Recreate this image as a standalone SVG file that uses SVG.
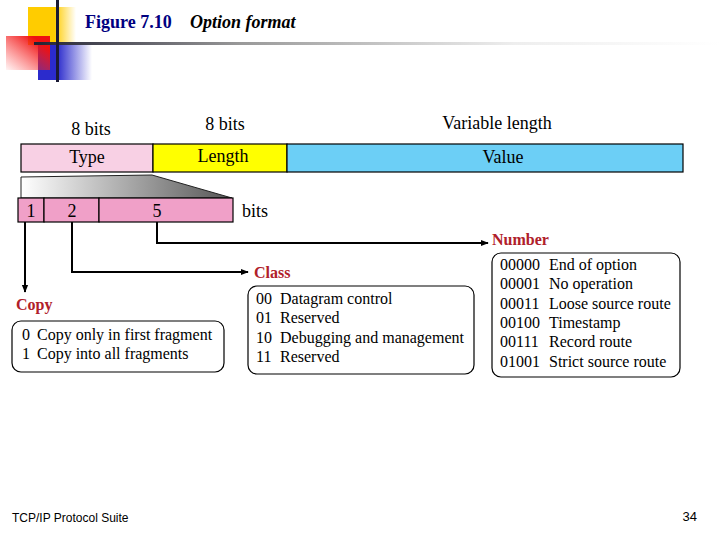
<svg xmlns="http://www.w3.org/2000/svg" width="720" height="540" viewBox="0 0 720 540">
<defs>
<linearGradient id="gY" x1="0" y1="0" x2="1" y2="0"><stop offset="0" stop-color="#ffcc00"/><stop offset="0.55" stop-color="#ffcc00"/><stop offset="1" stop-color="#ffcc00" stop-opacity="0"/></linearGradient>
<linearGradient id="gR" x1="0" y1="1" x2="1" y2="0"><stop offset="0" stop-color="#ff3333" stop-opacity="0.05"/><stop offset="0.8" stop-color="#ee1111"/><stop offset="1" stop-color="#ee1111"/></linearGradient>
<linearGradient id="gB" x1="0" y1="0" x2="1" y2="0"><stop offset="0" stop-color="#2b2bcc"/><stop offset="0.35" stop-color="#2b2bcc"/><stop offset="1" stop-color="#2b2bcc" stop-opacity="0"/></linearGradient>
<linearGradient id="gL" x1="0" y1="0" x2="1" y2="0"><stop offset="0" stop-color="#222233"/><stop offset="0.3" stop-color="#999999"/><stop offset="0.7" stop-color="#eeeeee"/><stop offset="1" stop-color="#ffffff"/></linearGradient>
<linearGradient id="gT" x1="0" y1="0" x2="1" y2="0"><stop offset="0" stop-color="#ffffff"/><stop offset="1" stop-color="#555555"/></linearGradient>
<marker id="ah" viewBox="0 0 10 10" refX="9" refY="5" markerWidth="8" markerHeight="8" markerUnits="userSpaceOnUse" orient="auto"><path d="M0,1 L10,5 L0,9 z" fill="#000"/></marker>
<style>
.t{font-family:"Liberation Serif","Times New Roman",serif;font-size:18px;fill:#000}
.lb{font-family:"Liberation Serif","Times New Roman",serif;font-size:16px;fill:#000}
.h{font-family:"Liberation Serif","Times New Roman",serif;font-size:16px;font-weight:bold;fill:#b0202a}
.box{stroke:#000;stroke-width:1.2}
.rb{fill:#fff;stroke:#000;stroke-width:1.2}
.ln{fill:none;stroke:#000;stroke-width:2}
</style>
</defs>
<g id="logo">
<rect x="28" y="7" width="48" height="38" fill="url(#gY)"/>
<rect x="38" y="45" width="54" height="35" fill="url(#gB)"/>
<rect x="6" y="36" width="44" height="34" fill="url(#gR)"/>
<rect x="34" y="42" width="686" height="3" fill="url(#gL)"/>
<rect x="56" y="0" width="3" height="82" fill="#1a1a33"/>
</g>
<g id="title">
<text x="85" y="28" font-family="Liberation Serif, serif" font-size="18" font-weight="bold" fill="#000080">Figure 7.10</text>
<text x="190" y="28" font-family="Liberation Serif, serif" font-size="18" font-weight="bold" font-style="italic" fill="#000">Option format</text>
</g>
<g id="header">
<text class="t" x="91" y="135" text-anchor="middle">8 bits</text>
<text class="t" x="225" y="130" text-anchor="middle">8 bits</text>
<text class="t" x="497" y="129" text-anchor="middle">Variable length</text>
</g>
<g id="type"><rect class="box" x="21" y="144" width="132" height="28" fill="#f8d0e4"/><text class="t" x="87" y="163" text-anchor="middle">Type</text></g>
<g id="length"><rect class="box" x="153" y="144" width="134" height="28" fill="#ffff00"/><text class="t" x="223" y="162" text-anchor="middle">Length</text></g>
<g id="value"><rect class="box" x="287" y="144" width="396" height="28" fill="#6ccff6"/><text class="t" x="503" y="163" text-anchor="middle">Value</text></g>
<g id="expand"><path d="M21,177 L152,175 L232,198 L21,198 z" fill="url(#gT)" stroke="#222" stroke-width="1"/></g>
<g id="subfields">
<rect class="box" x="18" y="198" width="26" height="24" fill="#f0a0c8"/>
<rect class="box" x="44" y="198" width="55" height="24" fill="#f0a0c8"/>
<rect class="box" x="99" y="198" width="134" height="24" fill="#f0a0c8"/>
<text class="t" x="31" y="217" text-anchor="middle">1</text>
<text class="t" x="72" y="217" text-anchor="middle">2</text>
<text class="t" x="157" y="217" text-anchor="middle">5</text>
<text class="t" x="242" y="217">bits</text>
</g>
<g id="connectors">
<path class="ln" d="M25,222 L25,292" marker-end="url(#ah)"/>
<path class="ln" d="M72,222 L72,272 L248,272" marker-end="url(#ah)"/>
<path class="ln" d="M157,222 L157,243 L488,243" marker-end="url(#ah)"/>
</g>
<g id="copy">
<text class="h" x="16" y="310">Copy</text>
<rect class="rb" x="12" y="321" width="212" height="51" rx="9"/>
<text class="lb" x="22" y="340">0</text><text class="lb" x="37" y="340">Copy only in first fragment</text>
<text class="lb" x="22" y="359">1</text><text class="lb" x="37" y="359">Copy into all fragments</text>
</g>
<g id="class">
<text class="h" x="254" y="278">Class</text>
<rect class="rb" x="248" y="286" width="226" height="88" rx="9"/>
<text class="lb" x="256" y="304">00</text><text class="lb" x="280" y="304">Datagram control</text>
<text class="lb" x="256" y="323">01</text><text class="lb" x="280" y="323">Reserved</text>
<text class="lb" x="256" y="343">10</text><text class="lb" x="280" y="343">Debugging and management</text>
<text class="lb" x="256" y="362">11</text><text class="lb" x="280" y="362">Reserved</text>
</g>
<g id="number">
<text class="h" x="492" y="245">Number</text>
<rect class="rb" x="492" y="253" width="188" height="124" rx="9"/>
<text class="lb" x="500" y="270">00000</text><text class="lb" x="549" y="270">End of option</text>
<text class="lb" x="500" y="289">00001</text><text class="lb" x="549" y="289">No operation</text>
<text class="lb" x="500" y="309">00011</text><text class="lb" x="549" y="309">Loose source route</text>
<text class="lb" x="500" y="328">00100</text><text class="lb" x="549" y="328">Timestamp</text>
<text class="lb" x="500" y="347">00111</text><text class="lb" x="549" y="347">Record route</text>
<text class="lb" x="500" y="367">01001</text><text class="lb" x="549" y="367">Strict source route</text>
</g>
<g id="footer">
<text x="12" y="522" font-family="Liberation Sans, sans-serif" font-size="12" fill="#000">TCP/IP Protocol Suite</text>
<text x="697" y="521" font-family="Liberation Sans, sans-serif" font-size="13" fill="#000" text-anchor="end">34</text>
</g>
</svg>
